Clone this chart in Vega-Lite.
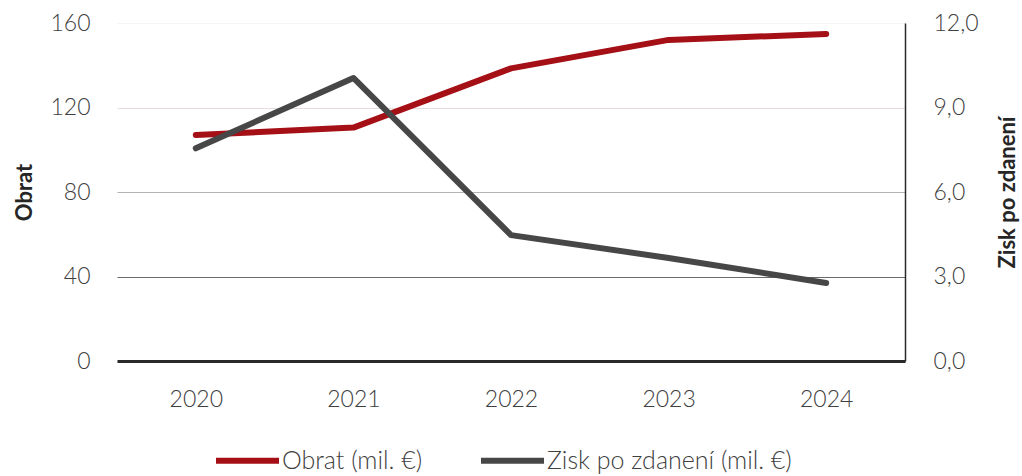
{
  "$schema": "https://vega.github.io/schema/vega-lite/v6.json",
  "width": 788,
  "height": 338,
  "autosize": {"type": "none"},
  "padding": {"left": 117, "top": 23, "right": 117, "bottom": 115},
  "config": {
    "font": "Lato",
    "view": {"stroke": null},
    "axis": {"labelFont": "Lato", "labelFontSize": 23, "labelFontWeight": 300, "labelColor": "#404040", "titleFont": "Lato", "titleFontSize": 22, "titleFontWeight": "bold", "titleColor": "#262626", "ticks": false}
  },
  "data": {
    "values": [
      {"year": "2020", "series": "Obrat (mil. €)", "value": 107},
      {"year": "2021", "series": "Obrat (mil. €)", "value": 110.5},
      {"year": "2022", "series": "Obrat (mil. €)", "value": 138.5},
      {"year": "2023", "series": "Obrat (mil. €)", "value": 152},
      {"year": "2024", "series": "Obrat (mil. €)", "value": 154.8},
      {"year": "2020", "series": "Zisk po zdanení (mil. €)", "value": 7.55},
      {"year": "2021", "series": "Zisk po zdanení (mil. €)", "value": 10.05},
      {"year": "2022", "series": "Zisk po zdanení (mil. €)", "value": 4.47},
      {"year": "2023", "series": "Zisk po zdanení (mil. €)", "value": 3.66},
      {"year": "2024", "series": "Zisk po zdanení (mil. €)", "value": 2.77}
    ]
  },
  "encoding": {
    "x": {
      "field": "year",
      "type": "ordinal",
      "scale": {"padding": 0.5},
      "axis": {"title": null, "labelAngle": 0, "labelPadding": 27, "domain": true, "domainColor": "#2a2a2a", "domainWidth": 3, "grid": false}
    },
    "color": {
      "field": "series",
      "type": "nominal",
      "scale": {"domain": ["Obrat (mil. €)", "Zisk po zdanení (mil. €)"], "range": ["#a50f16", "#474747"]},
      "legend": {
        "title": null,
        "orient": "none",
        "direction": "horizontal",
        "legendX": 96,
        "legendY": 403,
        "symbolType": "stroke",
        "symbolSize": 3969,
        "symbolStrokeWidth": 6,
        "labelFont": "Lato",
        "labelFontSize": 25,
        "labelFontWeight": 300,
        "labelColor": "#404040",
        "labelOffset": 0,
        "labelLimit": 0,
        "columnPadding": 46
      }
    }
  },
  "layer": [
    {
      "transform": [{"filter": "datum.series === 'Obrat (mil. €)'"}],
      "mark": {"type": "line", "strokeWidth": 6, "strokeCap": "round", "strokeJoin": "round"},
      "encoding": {
        "y": {
          "field": "value",
          "type": "quantitative",
          "scale": {"domain": [0, 160], "nice": false},
          "axis": {
            "orient": "left",
            "title": "Obrat",
            "values": [0, 40, 80, 120, 160],
            "labelPadding": 27,
            "titlePadding": 13,
            "domain": false,
            "grid": true,
            "gridWidth": 1.2,
            "gridColor": {"condition": [{"test": "datum.value === 40", "value": "#6a6a6a"}, {"test": "datum.value === 80", "value": "#b4b4b4"}, {"test": "datum.value === 160", "value": "#f4f4f4"}], "value": "#e6dcdc"}
          }
        }
      }
    },
    {
      "transform": [{"filter": "datum.series === 'Zisk po zdanení (mil. €)'"}],
      "mark": {"type": "line", "strokeWidth": 6, "strokeCap": "round", "strokeJoin": "round"},
      "encoding": {
        "y": {
          "field": "value",
          "type": "quantitative",
          "scale": {"domain": [0, 12], "nice": false},
          "axis": {
            "orient": "right",
            "title": "Zisk po zdanení",
            "titleAngle": 270,
            "values": [0, 3, 6, 9, 12],
            "labelExpr": "replace(format(datum.value, '.1f'), '.', ',')",
            "labelPadding": 28,
            "titlePadding": 41,
            "domain": true,
            "domainColor": "#2a2a2a",
            "domainWidth": 1.5,
            "grid": false
          }
        }
      }
    }
  ],
  "resolve": {"scale": {"y": "independent"}}
}
